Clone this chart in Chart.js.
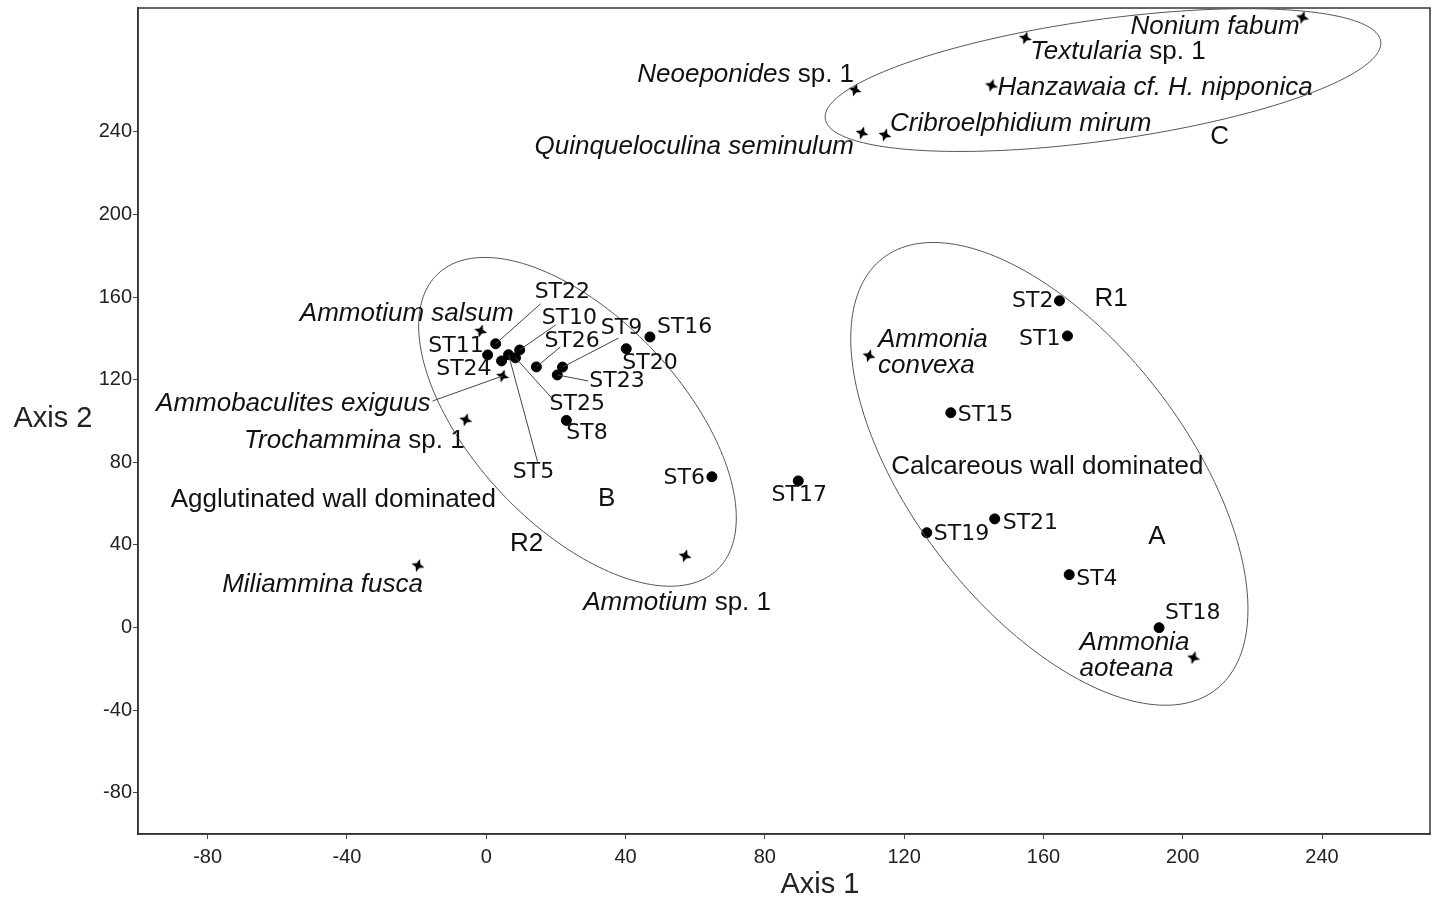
<!DOCTYPE html>
<html>
<head>
<meta charset="utf-8">
<script src="https://cdn.jsdelivr.net/npm/chart.js@4.4.1/dist/chart.umd.min.js"></script>
<style>
  html, body { margin: 0; padding: 0; background: #fff; }
  #wrap { width: 1438px; height: 899px; }
</style>
</head>
<body>
<div id="wrap"><canvas id="ordination"></canvas></div>
<script>
// sample sites
const stationNames = ['ST1', 'ST2', 'ST4', 'ST5', 'ST6', 'ST8', 'ST9', 'ST10', 'ST11', 'ST15', 'ST16',
    'ST17', 'ST18', 'ST19', 'ST20', 'ST21', 'ST22', 'ST23', 'ST24', 'ST25', 'ST26'];
const stationX = [166.9, 164.6, 167.4, 6.4, 64.8, 23.0, 21.9, 9.6, 0.4, 133.4, 47.0,
    89.6, 193.2, 126.5, 40.2, 146.0, 2.7, 20.4, 4.4, 8.4, 14.4];
const stationY = [141.2, 158.2, 25.6, 132.1, 73.0, 100.3, 126.1, 134.4, 132.0, 104.0, 140.7,
    71.0, -0.1, 45.9, 135.0, 52.6, 137.4, 122.3, 129.1, 130.6, 126.2];

// species
const speciesNames = ['Nonium fabum', 'Textularia sp. 1', 'Hanzawaia cf. H. nipponica', 'Neoeponides sp. 1',
    'Quinqueloculina seminulum', 'Cribroelphidium mirum', 'Ammonia convexa', 'Ammonia aoteana',
    'Ammotium sp. 1', 'Miliammina fusca', 'Trochammina sp. 1', 'Ammobaculites exiguus', 'Ammotium salsum'];
const speciesX = [234.4, 154.8, 145.1, 105.9, 107.9, 114.5, 109.9, 203.1, 57.1, -19.6, -5.9, 4.7, -1.6];
const speciesY = [295.4, 285.5, 262.5, 260.3, 239.5, 238.5, 131.6, -14.6, 34.7, 30.0, 100.6, 121.8, 143.6];

const xTicks = [-80, -40, 0, 40, 80, 120, 160, 200, 240];
const yTicks = [-80, -40, 0, 40, 80, 120, 160, 200, 240];

// group ellipses: centre and two conjugate semi-axes, in axis units
const groupEllipses = [
    { cx: 177.1, cy: 265.1, ux: 79.75, uy: 18.74, vx: 2.38, vy: -29.05 },
    { cx: 26.2, cy: 99.6, ux: 40.13, uy: -71.6, vx: 21.67, vy: 34.8 },
    { cx: 161.7, cy: 74.4, ux: 47.87, uy: -104.4, vx: 31.0, vy: 40.7 }
];

// free text in the plot, in axis units
const notes = [
    { text: 'A', x: 192.6, y: 43.9 },
    { text: 'B', x: 34.6, y: 62.3 },
    { text: 'C', x: 210.6, y: 237.6 },
    { text: 'R1', x: 179.4, y: 159.1 },
    { text: 'R2', x: 11.6, y: 40.5 },
    { text: 'Agglutinated wall dominated', x: -43.9, y: 61.8 },
    { text: 'Calcareous wall dominated', x: 161.1, y: 77.8 }
];

// label placement, pixel offsets from the marker
const stationLabelPos = {
    ST1: { dx: -7, dy: 3, align: 'right' },
    ST2: { dx: -6, dy: 0, align: 'right' },
    ST4: { dx: 7, dy: 5, align: 'left' },
    ST5: { dx: 25, dy: 118, align: 'center', lx: 29, ly: 107 },
    ST6: { dx: -7, dy: 2, align: 'right' },
    ST8: { dx: 0, dy: 13, align: 'left' },
    ST9: { dx: 59, dy: -39, align: 'center', lx: 56, ly: -29 },
    ST10: { dx: 22, dy: -32, align: 'left', lx: 36, ly: -25 },
    ST11: { dx: -4, dy: -9, align: 'right' },
    ST15: { dx: 7, dy: 3, align: 'left' },
    ST16: { dx: 7, dy: -10, align: 'left' },
    ST17: { dx: 1, dy: 14, align: 'center' },
    ST18: { dx: 6, dy: -14, align: 'left' },
    ST19: { dx: 7, dy: 2, align: 'left' },
    ST20: { dx: -4, dy: 15, align: 'left' },
    ST21: { dx: 8, dy: 4, align: 'left' },
    ST22: { dx: 39, dy: -51, align: 'left', lx: 45, ly: -40 },
    ST23: { dx: 32, dy: 6, align: 'left', lx: 31, ly: 6 },
    ST24: { dx: -10, dy: 8, align: 'right' },
    ST25: { dx: 34, dy: 46, align: 'left', lx: 36, ly: 40 },
    ST26: { dx: 8, dy: -26, align: 'left', lx: 24, ly: -20 }
};
const speciesLabelPos = [
    { dx: -3, dy: 9, align: 'right' },
    { dx: 5, dy: 14, align: 'left' },
    { dx: 6, dy: 2, align: 'left' },
    { dx: -1, dy: -15, align: 'right' },
    { dx: -8, dy: 14, align: 'right' },
    { dx: 5, dy: -11, align: 'left' },
    { dx: 9, dy: -16, align: 'left', split: true },
    { dx: -114, dy: -15, align: 'left', split: true },
    { dx: -8, dy: 47, align: 'center' },
    { dx: 5, dy: 19, align: 'right' },
    { dx: -1, dy: 21, align: 'right' },
    { dx: -72, dy: 28, align: 'right', lx: -70, ly: 25 },
    { dx: 33, dy: -17, align: 'right' }
];

const SANS = '"Liberation Sans", Arial, sans-serif';
const ST_FONT = '22px "DejaVu Sans", Verdana, sans-serif';
const SP_SIZE = 26;

// four pointed star marker
function makeStar() {
    const c = document.createElement('canvas');
    c.width = 16; c.height = 16;
    const g = c.getContext('2d');
    g.translate(8, 8);
    g.rotate(0.3);
    g.beginPath();
    for (let k = 0; k < 8; k++) {
        const r = k % 2 === 0 ? 6.8 : 2.7;
        const a = k * Math.PI / 4;
        g.lineTo(r * Math.cos(a), r * Math.sin(a));
    }
    g.closePath();
    g.fillStyle = '#000';
    g.fill();
    return c;
}

function segments(name) {
    const i = name.indexOf(' sp. 1');
    if (i >= 0) return [{ t: name.slice(0, i), it: true }, { t: name.slice(i), it: false }];
    return [{ t: name, it: true }];
}

function drawSegments(ctx, segs, x, y, align) {
    const fonts = segs.map(s => (s.it ? 'italic ' : '') + SP_SIZE + 'px ' + SANS);
    let total = 0;
    const widths = segs.map((s, k) => { ctx.font = fonts[k]; const w = ctx.measureText(s.t).width; total += w; return w; });
    let sx = align === 'right' ? x - total : align === 'center' ? x - total / 2 : x;
    ctx.textAlign = 'left';
    segs.forEach((s, k) => { ctx.font = fonts[k]; ctx.fillText(s.t, sx, y); sx += widths[k]; });
}

function noPad(s) {
    s.paddingTop = 0; s.paddingBottom = 0; s.paddingLeft = 0; s.paddingRight = 0;
}

const overlay = {
    id: 'overlay',
    afterDatasetsDraw(chart) {
        const ctx = chart.ctx;
        const xs = chart.scales.x, ys = chart.scales.y;
        const a = chart.chartArea;
        ctx.save();
        // frame
        ctx.strokeStyle = '#333';
        ctx.lineWidth = 1.5;
        ctx.strokeRect(a.left, a.top, a.right - a.left, a.bottom - a.top);

        // ellipses
        ctx.strokeStyle = '#555';
        ctx.lineWidth = 1;
        groupEllipses.forEach(e => {
            ctx.beginPath();
            for (let k = 0; k <= 200; k++) {
                const t = k / 200 * Math.PI * 2;
                const px = xs.getPixelForValue(e.cx + e.ux * Math.cos(t) + e.vx * Math.sin(t));
                const py = ys.getPixelForValue(e.cy + e.uy * Math.cos(t) + e.vy * Math.sin(t));
                if (k === 0) ctx.moveTo(px, py); else ctx.lineTo(px, py);
            }
            ctx.stroke();
        });

        ctx.fillStyle = '#111';
        ctx.textBaseline = 'middle';
        ctx.strokeStyle = '#444';
        ctx.lineWidth = 1;

        // station labels
        chart.getDatasetMeta(0).data.forEach((pt, i) => {
            const p = stationLabelPos[stationNames[i]];
            if (p.lx !== undefined) {
                ctx.beginPath();
                ctx.moveTo(pt.x, pt.y);
                ctx.lineTo(pt.x + p.lx, pt.y + p.ly);
                ctx.stroke();
            }
            ctx.font = ST_FONT;
            ctx.textAlign = p.align;
            ctx.fillText(stationNames[i], pt.x + p.dx, pt.y + p.dy);
        });

        // species labels
        chart.getDatasetMeta(1).data.forEach((pt, i) => {
            const p = speciesLabelPos[i];
            if (p.lx !== undefined) {
                ctx.beginPath();
                ctx.moveTo(pt.x, pt.y);
                ctx.lineTo(pt.x + p.lx, pt.y + p.ly);
                ctx.stroke();
            }
            if (p.split) {
                speciesNames[i].split(' ').forEach((w, k) => {
                    drawSegments(ctx, [{ t: w, it: true }], pt.x + p.dx, pt.y + p.dy + k * 26, p.align);
                });
            } else {
                drawSegments(ctx, segments(speciesNames[i]), pt.x + p.dx, pt.y + p.dy, p.align);
            }
        });

        // notes
        ctx.font = SP_SIZE + 'px ' + SANS;
        ctx.textAlign = 'center';
        notes.forEach(n => ctx.fillText(n.text, xs.getPixelForValue(n.x), ys.getPixelForValue(n.y)));

        // axis titles
        ctx.font = '29px ' + SANS;
        ctx.fillStyle = '#222';
        ctx.fillText('Axis 1', 820, 885);
        ctx.fillText('Axis 2', 53, 419);
        ctx.restore();
    }
};

const ctx = document.getElementById('ordination').getContext('2d');
const ordination = new Chart(ctx, {
    type: 'scatter',
    data: {
        datasets: [
            {
                label: 'Stations',
                data: stationX.map((x, i) => ({ x: x, y: stationY[i] })),
                pointStyle: 'circle',
                pointRadius: 5,
                backgroundColor: '#000',
                borderColor: '#000'
            },
            {
                label: 'Species',
                data: speciesX.map((x, i) => ({ x: x, y: speciesY[i] })),
                pointStyle: makeStar(),
                pointRadius: 7
            }
        ]
    },
    options: {
        responsive: true,
        maintainAspectRatio: false,
        animation: false,
        layout: { padding: { top: 8, right: 4, left: 0, bottom: 0 } },
        scales: {
            x: {
                min: -100,
                max: 271,
                afterBuildTicks: s => { s.ticks = xTicks.map(v => ({ value: v })); },
                afterFit: s => { s.height = 65; noPad(s); },
                grid: { drawOnChartArea: false, tickLength: 5, color: '#444', tickWidth: 1 },
                border: { color: '#333', width: 1.5 },
                ticks: { color: '#222', padding: 6, font: { size: 20, family: SANS } }
            },
            y: {
                min: -100,
                max: 300,
                afterBuildTicks: s => { s.ticks = yTicks.map(v => ({ value: v })); },
                afterFit: s => { s.width = 138; noPad(s); },
                grid: { drawOnChartArea: false, tickLength: 5, color: '#444', tickWidth: 1 },
                border: { color: '#333', width: 1.5 },
                ticks: { color: '#222', padding: 1, font: { size: 20, family: SANS } }
            }
        },
        plugins: {
            legend: { display: false },
            tooltip: { enabled: false }
        }
    },
    plugins: [overlay]
});
</script>
</body>
</html>
